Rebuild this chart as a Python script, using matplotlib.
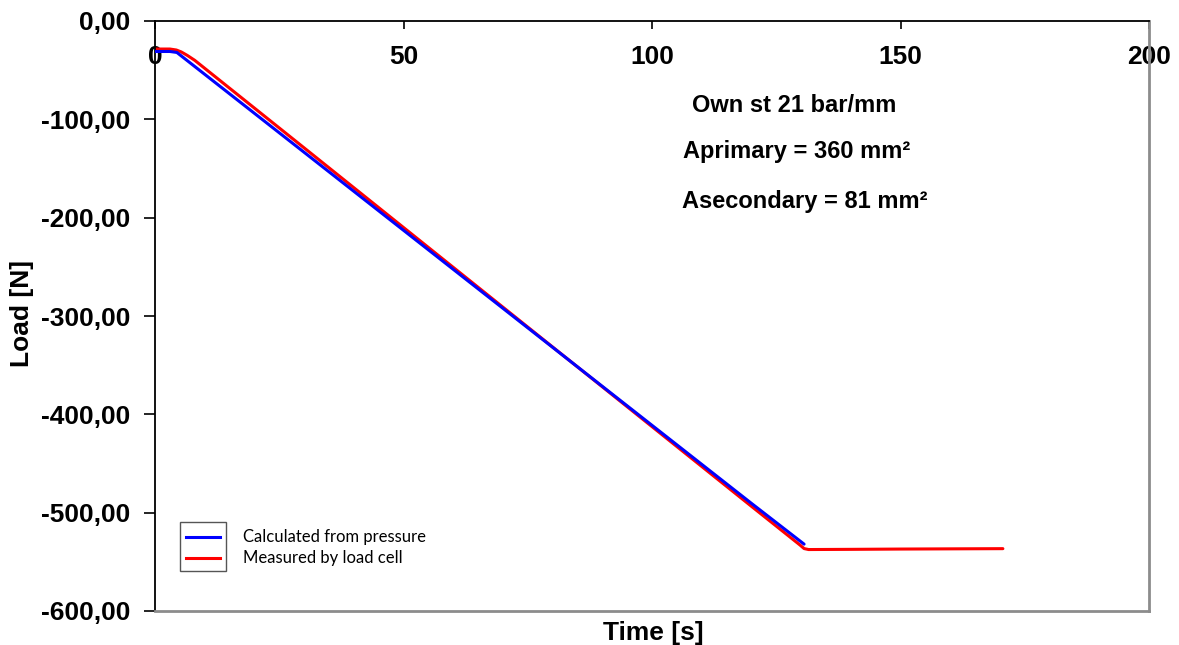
import matplotlib
matplotlib.use("Agg")
import matplotlib.pyplot as plt
from matplotlib.lines import Line2D
from matplotlib.patches import Rectangle

plt.rcParams['font.family'] = ['Liberation Sans', 'DejaVu Sans']

# Data
calc_time = [0.0, 3.0, 4.4, 30.0, 60.0, 90.0, 120.0, 130.6]
calc_load = [-31.0, -31.0, -32.0, -133.5, -252.5, -371.5, -490.5, -532.0]

meas_time = [0.0, 3.0, 4.3, 5.3, 6.5, 8.0, 30.0, 60.0, 90.0, 120.0, 129.8, 130.6, 131.5, 140.0, 150.0, 160.0, 170.6]
meas_load = [-28.5, -28.5, -29.5, -31.5, -35.0, -40.0, -129.0, -250.5, -372.0, -493.5, -533.0, -536.5, -537.5, -537.3, -537.0, -536.8, -536.6]

xticks = [0, 50, 100, 150, 200]
yticks = [0, -100, -200, -300, -400, -500, -600]
ytick_labels = ["0,00", "-100,00", "-200,00", "-300,00", "-400,00", "-500,00", "-600,00"]

series_labels = ["Calculated from pressure", "Measured by load cell"]
annotations = ["Own st 21 bar/mm", "Aprimary = 360 mm\u00b2", "Asecondary = 81 mm\u00b2"]

fig = plt.figure(figsize=(11.79, 6.45), dpi=100)
ax = fig.add_axes([155/1179, 1 - 611/645, (1149-155)/1179, (611-21)/645])

ax.plot(calc_time, calc_load, color='#0000FF', lw=2.2, solid_capstyle='round', zorder=3)
ax.plot(meas_time, meas_load, color='#FF0000', lw=2.2, solid_capstyle='round', zorder=2)

ax.set_xlim(0, 200)
ax.set_ylim(-600, 0)
ax.set_xticks(xticks)
ax.set_xticklabels([str(t) for t in xticks])
ax.set_yticks(yticks)
ax.set_yticklabels(ytick_labels)

# x axis crosses at y=0 (top of the plot area); ticks point down into the plot, labels below the line
ax.xaxis.set_ticks_position('top')
ax.spines['top'].set_color('black')
ax.spines['top'].set_linewidth(1.3)
ax.spines['bottom'].set_color('#8c8c8c')
ax.spines['bottom'].set_linewidth(2.0)
ax.spines['left'].set_color('black')
ax.spines['left'].set_linewidth(1.3)
ax.spines['right'].set_color('#8c8c8c')
ax.spines['right'].set_linewidth(2.0)

ax.tick_params(axis='x', direction='in', length=6, width=1.2, labelsize=19)
ax.tick_params(axis='y', direction='out', length=8, width=1.2, pad=10, labelsize=19)
for lab in ax.get_xticklabels():
    lab.set_fontweight('bold')
    lab.set_verticalalignment('top')
for lab in ax.get_yticklabels():
    lab.set_fontweight('bold')
ax.tick_params(axis='x', pad=-17.5)

fig.text(22/1179, 1 - 313/645, "Load [N]", rotation=90, ha='center', va='center', fontsize=19, fontweight='bold')
fig.text(653/1179, 1 - 633/645, "Time [s]", ha='center', va='center', fontsize=19, fontweight='bold')

ann_pos = [(794, 112), (797, 158), (805, 208)]
for txt, (px, py) in zip(annotations, ann_pos):
    fig.text(px/1179, 1 - py/645, txt, ha='center', va='baseline', fontsize=17, fontweight='bold')

# Legend (box around samples, text outside)
fig.patches.append(Rectangle((180/1179, 1 - 571/645), 46/1179, 49/645, transform=fig.transFigure,
                             fill=False, edgecolor='#555555', lw=1.0))
leg_colors = ['#0000FF', '#FF0000']
leg_y = [537, 558]
for lab, col, py in zip(series_labels, leg_colors, leg_y):
    fig.add_artist(Line2D([186/1179, 220/1179], [1 - py/645, 1 - py/645], transform=fig.transFigure, color=col, lw=2.2))
    fig.text(243/1179, 1 - py/645, lab, ha='left', va='center', fontsize=12, family=['Lato', 'DejaVu Sans'])

fig.savefig("out.png", dpi=100)
